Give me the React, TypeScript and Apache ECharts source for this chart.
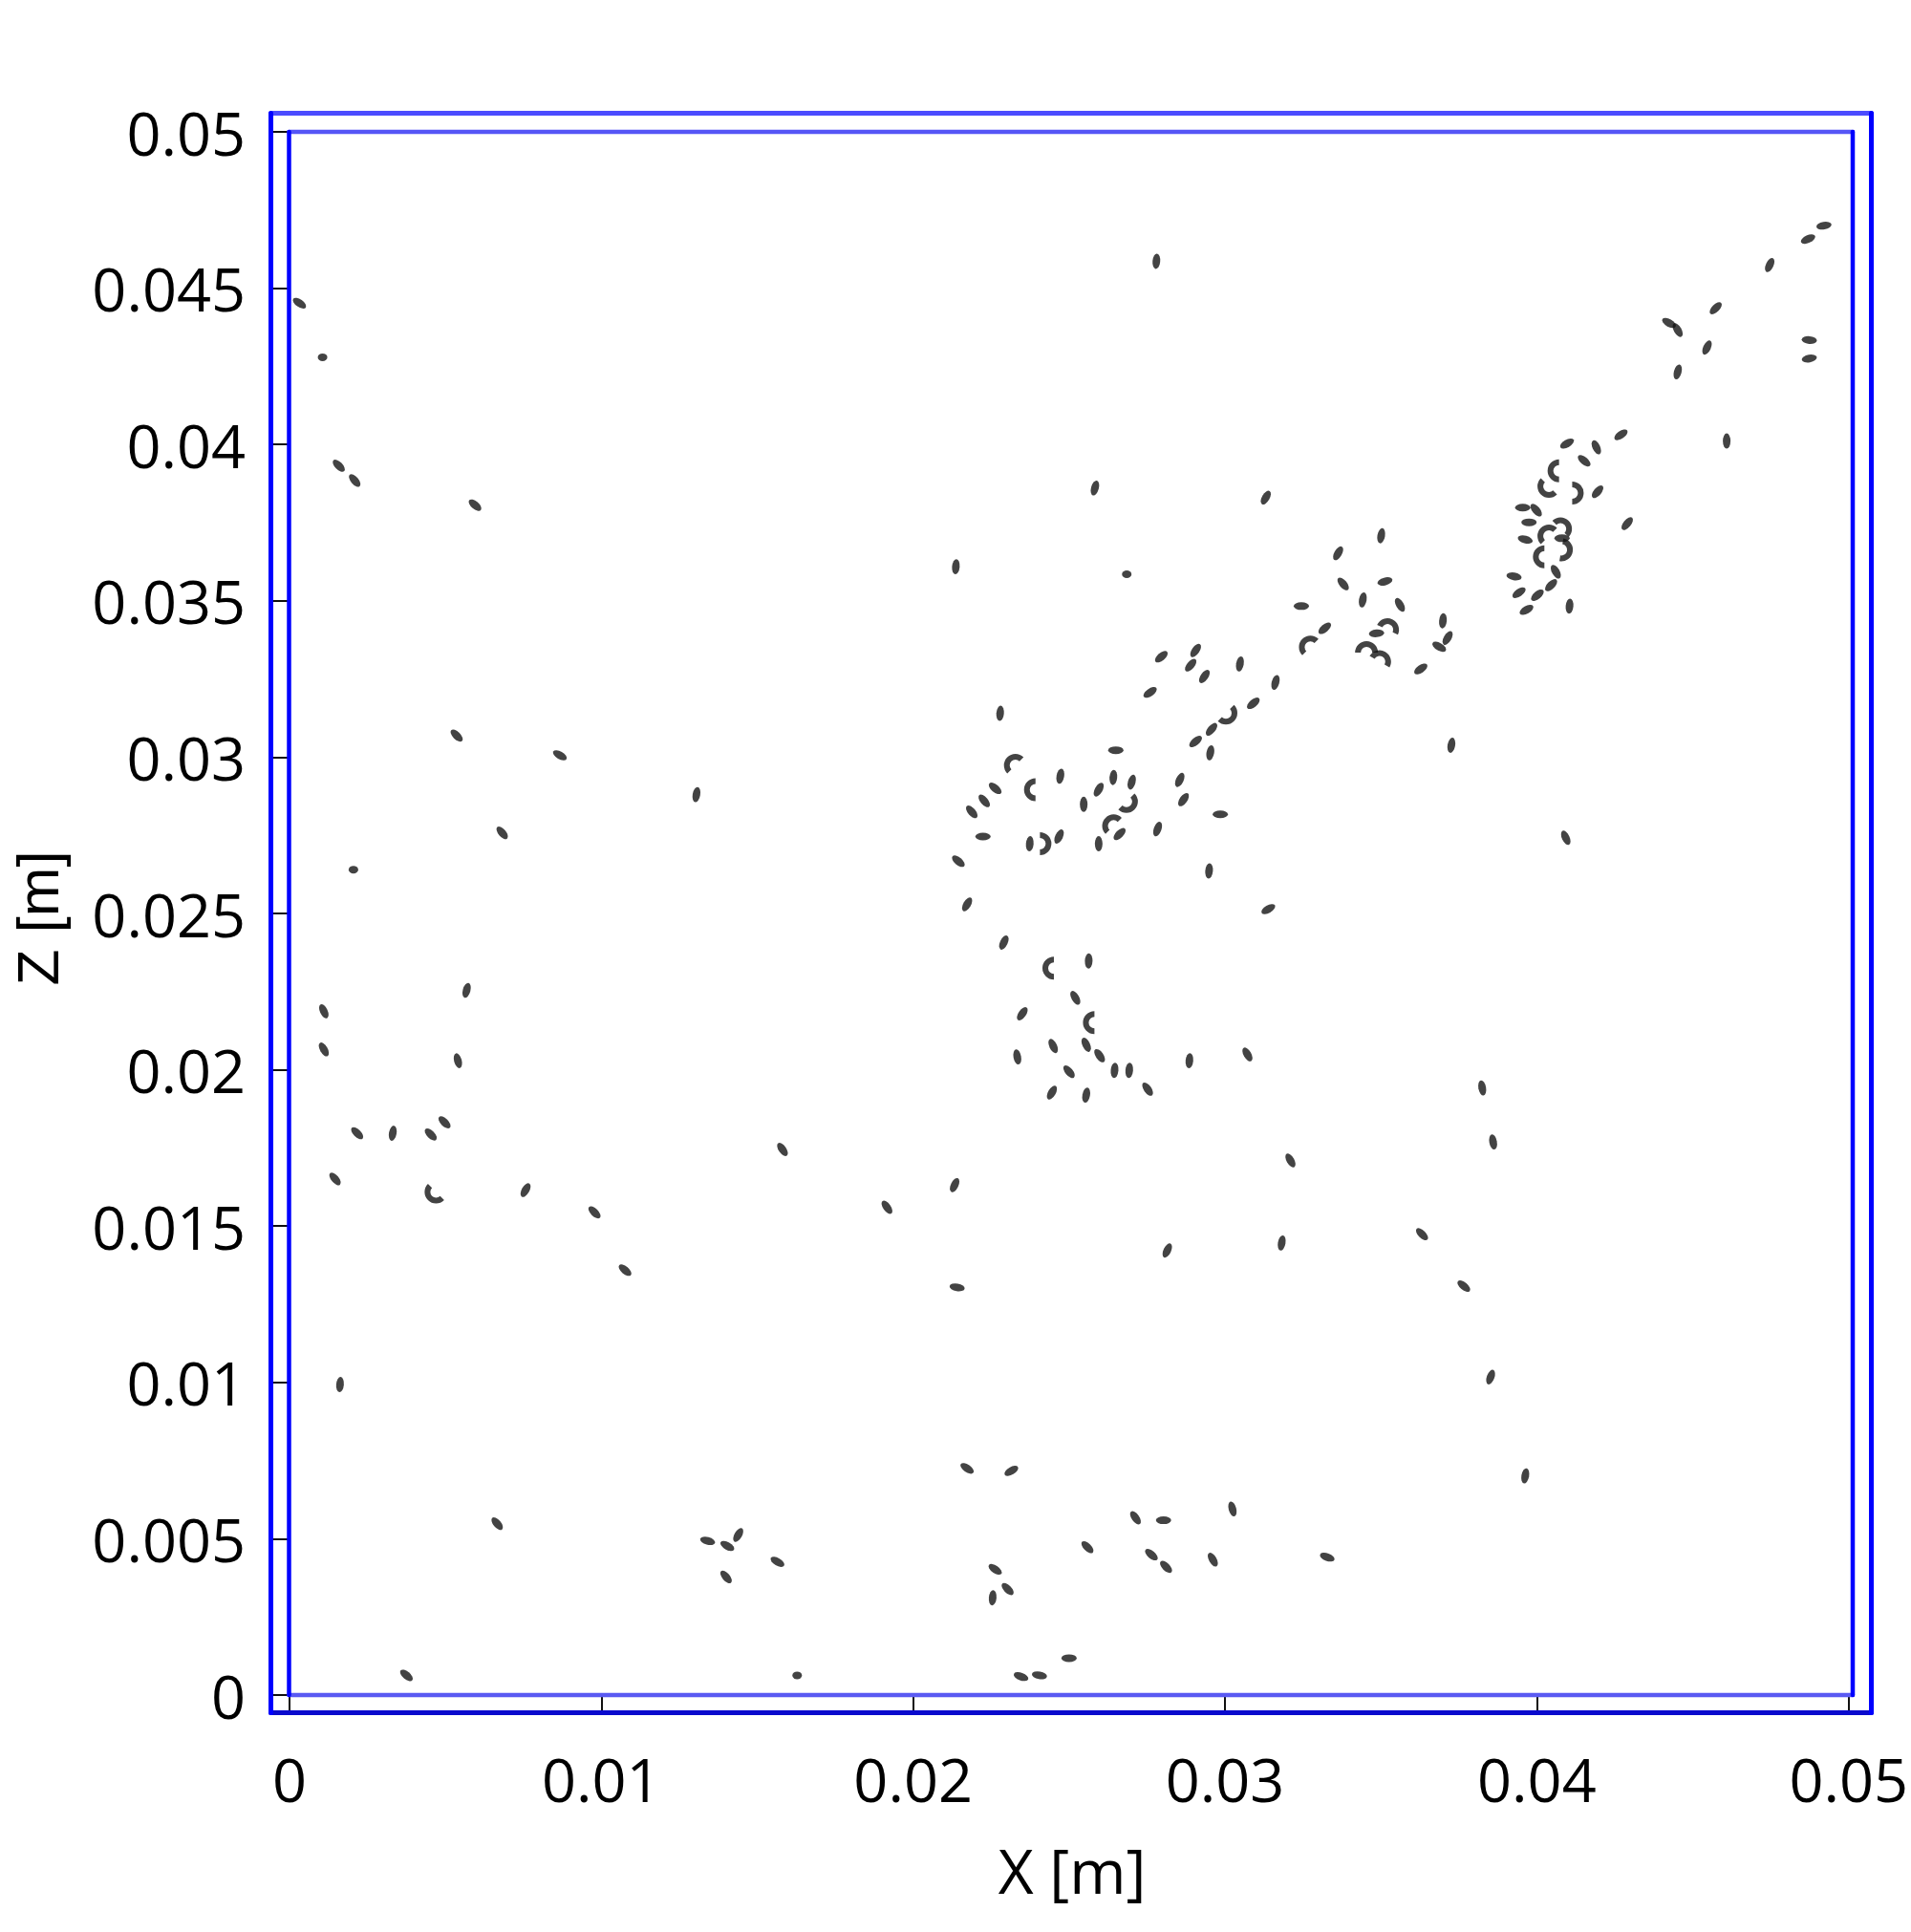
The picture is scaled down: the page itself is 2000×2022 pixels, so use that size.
import React, { useEffect, useRef } from "react";
import * as echarts from "echarts";

// Axis ranges / ticks (metres)
const xMin = 0;
const xMax = 0.05;
const xStep = 0.01;
const zMin = 0;
const zMax = 0.05;
const zStep = 0.005;
const xTitle = "X [m]";
const zTitle = "Z [m]";

// Elongated particles: [x (m), z (m), orientation (deg, ccw)]
const dashParticles: number[][] = [
  [0.00032, 0.04452, -35], [0.00158, 0.03932, -45], [0.00209, 0.03885, -50], [0.00595, 0.03806, -40],
  [0.00536, 0.03069, -45], [0.00867, 0.03006, -30], [0.01305, 0.0288, 80], [0.00682, 0.02758, -50],
  [0.00568, 0.02254, 75], [0.0011, 0.02187, -65], [0.0011, 0.02065, -60], [0.0054, 0.02029, -75],
  [0.00217, 0.01797, -45], [0.00331, 0.01797, 80], [0.00453, 0.01793, -45], [0.00497, 0.01832, -45],
  [0.00146, 0.01651, -50], [0.00757, 0.01615, 60], [0.00978, 0.01544, -45], [0.01076, 0.01359, -40],
  [0.01581, 0.01745, -55], [0.01916, 0.0156, -55], [0.00162, 0.00993, 85], [0.00666, 0.00548, -50],
  [0.00375, 0.00063, -40], [0.01341, 0.00493, -15], [0.01404, 0.00477, -30], [0.01439, 0.00512, 60],
  [0.014, 0.00378, -50], [0.01565, 0.00426, -30], [0.02133, 0.01631, 65], [0.02141, 0.01304, -10],
  [0.02173, 0.00725, -35], [0.02315, 0.00717, 30], [0.03024, 0.00595, -75], [0.02713, 0.00567, -55],
  [0.02803, 0.00559, 0], [0.02559, 0.00473, -45], [0.02764, 0.00449, -40], [0.02811, 0.0041, -45],
  [0.02961, 0.00433, -60], [0.03328, 0.00441, -20], [0.02263, 0.00402, -35], [0.02303, 0.00339, -45],
  [0.02255, 0.00311, 85], [0.025, 0.00118, 0], [0.02346, 0.00059, -20], [0.02405, 0.00063, -10],
  [0.03825, 0.01942, -80], [0.0386, 0.01769, -80], [0.0321, 0.0171, -60], [0.03182, 0.01446, 80],
  [0.02815, 0.01422, 65], [0.03632, 0.01474, -45], [0.03766, 0.01308, -40], [0.03852, 0.01017, 70],
  [0.03963, 0.00701, 80], [0.02145, 0.02667, -40], [0.02173, 0.02529, 60], [0.03139, 0.02514, 30],
  [0.02949, 0.02636, 85], [0.02291, 0.02407, 65], [0.02563, 0.02348, 88], [0.0252, 0.0223, -60],
  [0.0235, 0.02179, 55], [0.02449, 0.02076, -65], [0.02555, 0.0208, -65], [0.02334, 0.02041, -80],
  [0.02598, 0.02045, -55], [0.025, 0.01994, -50], [0.02646, 0.01998, 85], [0.02693, 0.01998, 85],
  [0.02886, 0.02029, 85], [0.03072, 0.02049, -60], [0.02445, 0.01927, 60], [0.02555, 0.01919, 80],
  [0.02752, 0.01938, -55], [0.0278, 0.04586, 85], [0.02583, 0.03861, 75], [0.03131, 0.0383, 60],
  [0.02137, 0.03609, 85], [0.02279, 0.0314, 85], [0.02796, 0.03321, 40], [0.02906, 0.03341, 55],
  [0.0289, 0.03294, 50], [0.02934, 0.03258, 55], [0.03048, 0.03298, 80], [0.0276, 0.03207, 35],
  [0.03162, 0.03239, 75], [0.03091, 0.03172, 40], [0.02957, 0.03089, 50], [0.02906, 0.0305, 40],
  [0.02953, 0.03014, 80], [0.02855, 0.02927, 65], [0.02867, 0.02864, 55], [0.02985, 0.02817, 0],
  [0.02784, 0.0277, 70], [0.0265, 0.03022, 0], [0.02472, 0.02939, 80], [0.02263, 0.029, -40],
  [0.02228, 0.0286, -50], [0.02188, 0.02825, -50], [0.02642, 0.02935, 85], [0.02595, 0.02896, 60],
  [0.02701, 0.0292, 75], [0.02547, 0.02849, 90], [0.02662, 0.02754, 45], [0.02224, 0.02746, 0],
  [0.02374, 0.02723, 85], [0.02468, 0.02746, 65], [0.02595, 0.02723, 90], [0.03363, 0.03652, 60],
  [0.03501, 0.03708, 80], [0.03379, 0.03554, -50], [0.03513, 0.03562, 15], [0.03245, 0.03483, 0],
  [0.03442, 0.03503, 80], [0.03561, 0.03487, -60], [0.0332, 0.03412, 40], [0.03486, 0.03396, 5],
  [0.03628, 0.03282, 35], [0.03699, 0.03436, 85], [0.03714, 0.03381, 60], [0.03687, 0.03353, -30],
  [0.03726, 0.03038, 80], [0.04093, 0.02742, -65], [0.0427, 0.04031, 35], [0.04097, 0.04003, 30],
  [0.04191, 0.03991, -65], [0.04152, 0.03948, -40], [0.04195, 0.03849, 50], [0.0429, 0.03747, 50],
  [0.03955, 0.03798, 0], [0.03998, 0.0379, -50], [0.03975, 0.03751, 0], [0.03963, 0.03696, -15],
  [0.04081, 0.037, 0], [0.04061, 0.03593, -60], [0.03927, 0.03578, -10], [0.04046, 0.0355, 45],
  [0.03943, 0.03526, 35], [0.04002, 0.03518, 40], [0.03967, 0.03471, 30], [0.04105, 0.03483, 85],
  [0.04921, 0.047, 10], [0.0487, 0.04657, 25], [0.04747, 0.04574, 65], [0.04574, 0.04436, 45],
  [0.04424, 0.04389, -30], [0.04452, 0.04366, -60], [0.04546, 0.0431, 65], [0.04452, 0.04232, 75],
  [0.04874, 0.04334, -5], [0.04874, 0.04275, 10], [0.04609, 0.04011, 90],
];

// Near-round particles: [x (m), z (m), orientation (deg)]
const dotParticles: number[][] = [
  [0.00106, 0.04279, 0], [0.00205, 0.0264, 0], [0.01628, 0.00063, 0], [0.02685, 0.03585, 0],
];

// Curved (crescent) particles: [x (m), z (m), rotation (deg) of an arch opening downward]
const arcParticles: number[][] = [
  [0.00457, 0.01596, 135], [0.02433, 0.02325, 90], [0.02563, 0.02151, 90], [0.03016, 0.03128, -135],
  [0.02315, 0.02987, 45], [0.02374, 0.02896, 90], [0.02697, 0.02845, -135], [0.0263, 0.02793, 45],
  [0.02425, 0.02723, -90], [0.03261, 0.03365, 45], [0.03529, 0.03424, -25], [0.03454, 0.03353, 0],
  [0.03505, 0.03321, -30], [0.04053, 0.03916, 90], [0.04026, 0.03853, 135], [0.04132, 0.03845, -90],
  [0.04089, 0.03743, -45], [0.04026, 0.0372, 45], [0.04006, 0.03641, 90], [0.04097, 0.0366, -100],
];

const ELLIPSE = "path://M0,5 A10,5 0 1,0 20,5 A10,5 0 1,0 0,5 Z";
const ARCH = "path://M0,20 A20,20 0 0,1 40,20 L30,20 A10,10 0 0,0 10,20 Z";
const INK = "#141414";
const FONT = "'Open Sans', 'Noto Sans', sans-serif";

export default function App() {
  const ref = useRef<HTMLDivElement>(null);

  useEffect(() => {
    if (!ref.current) return;
    const chart = echarts.init(ref.current, null, { renderer: "svg" });

    const GL = 303, GT = 138, GR = 1939, GB = 1774;
    const OL = 283.5, OT = 118.5, OR = 1958.5, OB = 1792.5;
    const line = (x1: number, y1: number, x2: number, y2: number, color: string, w = 5) => ({
      type: "line",
      z: 20,
      silent: true,
      shape: { x1, y1, x2, y2 },
      style: { stroke: color, lineWidth: w, lineCap: "round" },
    });

    const rot = (v: any) => v[2];

    chart.setOption({
      animation: false,
      backgroundColor: "#ffffff",
      grid: { left: GL, top: GT, right: 2000 - GR, bottom: 2022 - GB, containLabel: false },
      xAxis: {
        type: "value",
        min: xMin,
        max: xMax,
        interval: xStep,
        axisLine: { show: false },
        splitLine: { show: false },
        axisTick: { show: true, length: 19, lineStyle: { color: "#111", width: 2 } },
        axisLabel: { margin: 56, fontSize: 63, fontFamily: FONT, color: "#000" },
      },
      yAxis: {
        type: "value",
        min: zMin,
        max: zMax,
        interval: zStep,
        axisLine: { show: false },
        splitLine: { show: false },
        axisTick: { show: true, length: 19, lineStyle: { color: "#111", width: 2 } },
        axisLabel: { margin: 46, fontSize: 63, fontFamily: FONT, color: "#000" },
      },
      series: [
        {
          type: "scatter",
          data: dashParticles,
          symbol: ELLIPSE,
          symbolSize: [16, 8],
          symbolRotate: rot,
          itemStyle: { color: INK },
          z: 5,
        },
        {
          type: "scatter",
          data: dotParticles,
          symbol: ELLIPSE,
          symbolSize: [10, 8],
          symbolRotate: rot,
          itemStyle: { color: INK },
          z: 5,
        },
        {
          type: "scatter",
          data: arcParticles,
          symbol: ARCH,
          symbolSize: [24, 12],
          symbolRotate: rot,
          itemStyle: { color: INK },
          z: 5,
        },
      ],
      graphic: [
        line(OL, OT, OR, OT, "#4b4bff"),
        line(OL, OB, OR, OB, "#0a0acd"),
        line(OL, OT, OL, OB, "#0000ff"),
        line(OR, OT, OR, OB, "#0000ff"),
        line(GL - 0.5, GT, GR, GT, "#5656f6", 4.5),
        line(GL - 0.5, GB, GR, GB, "#5a5af2", 4.5),
        line(GL - 0.5, GT, GL - 0.5, GB, "#0000ff", 4.5),
        line(GR, GT, GR, GB, "#0000ff", 4.5),
        {
          type: "text",
          x: 1122,
          y: 1957,
          style: { text: xTitle, fontSize: 64, fontFamily: FONT, fill: "#000", align: "center", verticalAlign: "middle" },
        },
        {
          type: "text",
          x: 39,
          y: 961,
          rotation: Math.PI / 2,
          style: {
            text: zTitle,
            fontSize: 62,
            fontFamily: "'Liberation Sans', Arial, sans-serif",
            fill: "#000",
            align: "center",
            verticalAlign: "middle",
          },
        },
      ],
    });

    return () => chart.dispose();
  }, []);

  return (
    <div
      ref={ref}
      style={{ position: "fixed", left: 0, top: 0, width: 2000, height: 2022, background: "#fff" }}
    />
  );
}
